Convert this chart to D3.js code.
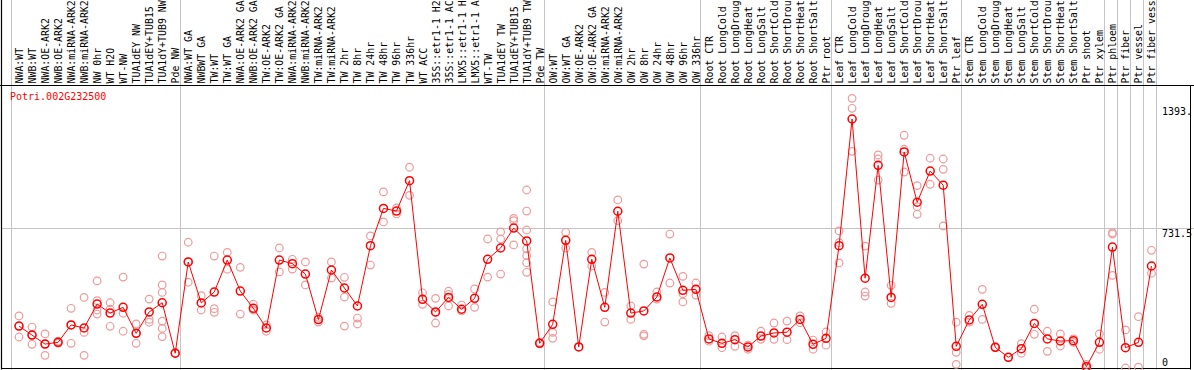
<!DOCTYPE html>
<html>
<head>
<meta charset="utf-8">
<script src="https://cdn.jsdelivr.net/npm/d3@7"></script>
<style>
  body { margin: 0; background: #fff; }
  svg { display: block; }
  text { font-family: "DejaVu Sans Mono", monospace; font-size: 10px; }
</style>
</head>
<body>
<div id="chart"></div>
<script>
// gene shown
const geneName = "Potri.002G232500";

// sample names, left to right
const categories = [
  "NWA:WT", "NWB:WT", "NWA:OE-ARK2", "NWB:OE-ARK2", "NWA:miRNA-ARK2", "NWB:miRNA-ARK2",
  "NW 0hr", "WT H2O", "WT-NW", "TUA1dEY NW", "TUA1dEY+TUB15 NW", "TUA1dY+TUB9 NW", "Pde NW",
  "NWA:WT GA", "NWBWT GA", "TW:WT", "TW:WT GA", "NWA:OE-ARK2 GA", "NWB:OE-ARK2 GA",
  "TW:OE-ARK2", "TW:OE-ARK2 GA", "NWA:miRNA-ARK2", "NWB:miRNA-ARK2", "TW:miRNA-ARK2",
  "TW:miRNA-ARK2", "TW 2hr", "TW 8hr", "TW 24hr", "TW 48hr", "TW 96hr", "TW 336hr",
  "WT ACC", "35S::etr1-1 H2O", "35S::etr1-1 ACC", "LMX5::etr1-1 H2O", "LMX5::etr1-1 ACC",
  "WT-TW", "TUA1dEY TW", "TUA1dEY+TUB15 TW", "TUA1dY+TUB9 TW", "Pde TW",
  "OW:WT", "OW:WT GA", "OW:OE-ARK2", "OW:OE-ARK2 GA", "OW:miRNA-ARK2", "OW:miRNA-ARK2",
  "OW 2hr", "OW 8hr", "OW 24hr", "OW 48hr", "OW 96hr", "OW 336hr",
  "Root CTR", "Root LongCold", "Root LongDrought", "Root LongHeat", "Root LongSalt",
  "Root ShortCold", "Root ShortDrought", "Root ShortHeat", "Root ShortSalt", "Ptr root",
  "Leaf CTR", "Leaf LongCold", "Leaf LongDrought", "Leaf LongHeat", "Leaf LongSalt",
  "Leaf ShortCold", "Leaf ShortDrought", "Leaf ShortHeat", "Leaf ShortSalt", "Ptr leaf",
  "Stem CTR", "Stem LongCold", "Stem LongDrought", "Stem LongHeat", "Stem LongSalt",
  "Stem ShortCold", "Stem ShortDrought", "Stem ShortHeat", "Stem ShortSalt", "Ptr shoot",
  "Ptr xylem", "Ptr phloem", "Ptr fiber", "Ptr vessel", "Ptr fiber vessel"
];

// number of samples in each experiment block (separated by grey lines)
const groupSizes = [13, 28, 12, 10, 10, 11, 1, 1, 1, 1];

// mean expression per sample
const means = [
  219, 172, 125, 134, 225, 209, 334, 287, 317, 181, 293, 341, 77,
  554, 340, 397, 564, 402, 312, 209, 564, 545, 491, 253, 512, 418, 324, 639, 834, 820, 979,
  359, 293, 369, 307, 364, 568, 627, 731, 664, 129,
  228, 667, 110, 568, 317, 819, 287, 298, 371, 575, 406, 411,
  152, 129, 148, 110, 167, 183, 187, 254, 124, 155,
  639, 1301, 469, 1059, 369, 1129, 866, 1029, 955, 113,
  251, 333, 108, 56, 101, 233, 152, 141, 143, 7, 134,
  632, 106, 134, 533
];

// individual replicates per sample
const replicates = [
  [272, 219, 162], [214, 172, 124], [178, 125, 66], [140, 130, 134], [312, 225, 129],
  [369, 186, 66], [455, 352, 282, 303], [341, 307, 218], [475, 286, 192], [230, 181, 129],
  [360, 254, 239], [585, 434, 395, 245, 207, 164], [77, 80],
  [657, 554, 448], [378, 303], [585, 310, 291], [604, 516], [526, 282], [333, 303],
  [192, 225], [627, 502], [568, 517], [554, 434], [240, 265], [554, 470], [474, 371, 219],
  [261, 230], [690, 538], [920, 763], [836, 805], [1049, 902],
  [393, 333], [364, 235, 290], [401, 324, 385], [329, 298], [413, 317], [674, 475],
  [711, 674, 491], [782, 770, 643], [930, 820, 721, 623, 587, 550, 500], [129, 134],
  [345, 186, 155], [709, 627], [110], [604, 533], [395, 240], [878, 770], [324, 254],
  [543, 176, 168], [397, 360], [700, 444], [479, 388, 345], [444, 381],
  [169, 140], [162, 106], [169, 113], [98, 120], [192, 150], [235, 150], [245, 148],
  [272, 237], [146, 98], [188, 119],
  [716, 655, 549], [1409, 1357, 1132], [637, 397, 376], [1113, 1092, 982], [432, 338],
  [1216, 1143, 1024], [953, 843, 803], [1096, 960], [1092, 1038, 742], [239, 82, 19],
  [275, 240], [411, 254], [110, 106], [56], [127, 77], [307, 176], [192, 87], [178, 115],
  [152, 134], [19, 0], [178, 98],
  [707, 700, 484], [199, 0], [268, 4], [615, 495]
];

// right-hand value labels
const tickValues = [0, 731.5, 1393];
const tickLabels = ["0", "731.5", "1393."];

const width = 1194, height = 370;
const headerH = 85;
const plotLeft = 1, plotRight = 1190.5, plotBottom = 369;
// header only has room for this many characters
const maxLabelChars = 14;

const svg = d3.select("#chart").append("svg")
  .attr("width", width)
  .attr("height", height);

const x = d3.scaleBand()
  .domain(d3.range(categories.length))
  .range([10.5, 1156])
  .padding(0);
const px = i => x(i) + 8.5;

const y = d3.scaleLinear()
  .domain([0, 1463])
  .range([368, 88]);

// grey separators at block starts
let starts = [];
let acc = 0;
groupSizes.forEach(n => { starts.push(acc); acc += n; });
const sepX = starts.map(i => Math.round(x(i)) + 0.5).concat([Math.round(x.range()[1]) + 0.5]);

svg.append("g")
  .selectAll("line")
  .data(sepX)
  .join("line")
  .attr("x1", d => d).attr("x2", d => d)
  .attr("y1", 0).attr("y2", height)
  .attr("stroke", "#c4c4c4");

// mid gridline
svg.append("line")
  .attr("x1", plotLeft).attr("x2", width)
  .attr("y1", Math.round(y(731.5)) + 0.5).attr("y2", Math.round(y(731.5)) + 0.5)
  .attr("stroke", "#c4c4c4");

// frame
svg.append("line")
  .attr("x1", 0).attr("x2", width)
  .attr("y1", headerH + 0.5).attr("y2", headerH + 0.5)
  .attr("stroke", "#000");
svg.append("line")
  .attr("x1", plotLeft + 0.5).attr("x2", plotLeft + 0.5)
  .attr("y1", 0).attr("y2", plotBottom + 0.5)
  .attr("stroke", "#000").attr("stroke-width", 1.2);
svg.append("line")
  .attr("x1", plotRight).attr("x2", plotRight)
  .attr("y1", headerH).attr("y2", plotBottom + 0.5)
  .attr("stroke", "#000");
svg.append("line")
  .attr("x1", plotLeft).attr("x2", plotRight)
  .attr("y1", plotBottom - 0.5).attr("y2", plotBottom - 0.5)
  .attr("stroke", "#000").attr("stroke-width", 1.2);

// rotated sample names in the header (cut to what fits, like the original)
svg.append("g")
  .selectAll("text")
  .data(categories)
  .join("text")
  .attr("transform", (d, i) => `translate(${px(i) + 4},${headerH - 1.5}) rotate(-90)`)
  .attr("fill", "#000")
  .style("font-size", "9.9px")
  .text(d => d.slice(0, maxLabelChars));

// value labels on the right
const tickDy = [-2, 8.5, 13.5];
svg.append("g")
  .selectAll("text")
  .data(tickValues)
  .join("text")
  .attr("x", 1162)
  .attr("y", (d, i) => y(d) + tickDy[i])
  .attr("fill", "#000")
  .text((d, i) => tickLabels[i]);

// gene title
svg.append("text")
  .attr("x", 10)
  .attr("y", 100)
  .attr("fill", "#ff0000")
  .text(geneName);

// replicates
const repPoints = [];
replicates.forEach((r, i) => r.forEach(v => repPoints.push({ i, v })));
svg.append("g")
  .selectAll("circle")
  .data(repPoints)
  .join("circle")
  .attr("cx", d => px(d.i))
  .attr("cy", d => y(d.v))
  .attr("r", 3.8)
  .attr("fill", "none")
  .attr("stroke", "#ef9a9a")
  .attr("stroke-width", 1.2);

// mean line
const line = d3.line()
  .x((d, i) => px(i))
  .y(d => y(d));
svg.append("path")
  .datum(means)
  .attr("d", line)
  .attr("fill", "none")
  .attr("stroke", "#ff0000")
  .attr("stroke-width", 1);

svg.append("g")
  .selectAll("circle")
  .data(means)
  .join("circle")
  .attr("cx", (d, i) => px(i))
  .attr("cy", d => y(d))
  .attr("r", 4)
  .attr("fill", "none")
  .attr("stroke", "#ff0000")
  .attr("stroke-width", 1.5);
</script>
</body>
</html>
